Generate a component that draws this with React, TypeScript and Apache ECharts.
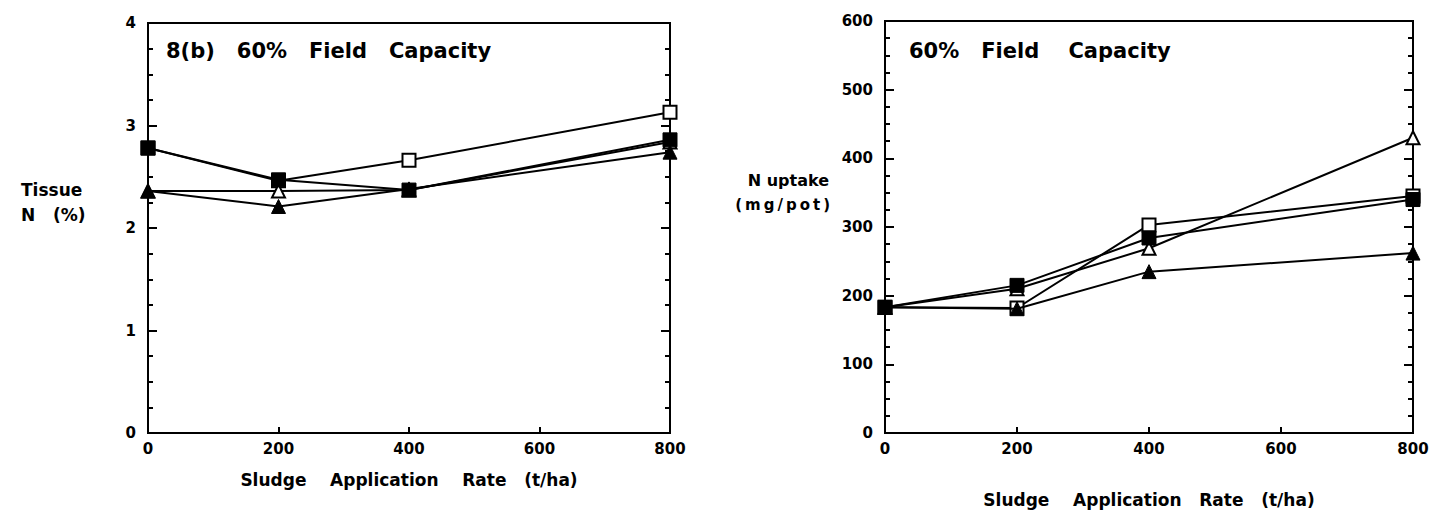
import React, { useEffect, useRef } from "react";
import * as echarts from "echarts";

const rates = [0, 200, 400, 800];

// Left panel: Tissue N (%)
const tissueOpenSquare = [2.78, 2.46, 2.66, 3.13];
const tissueFilledSquare = [2.78, 2.47, 2.37, 2.86];
const tissueOpenTriangle = [2.36, 2.36, 2.37, 2.84];
const tissueFilledTriangle = [2.36, 2.21, 2.38, 2.74];

// Right panel: N uptake (mg/pot)
const uptakeOpenSquare = [183, 182, 303, 345];
const uptakeFilledSquare = [183, 215, 284, 340];
const uptakeOpenTriangle = [183, 210, 269, 430];
const uptakeFilledTriangle = [183, 181, 235, 262];

const xTicks = [0, 200, 400, 600, 800];

const FONT = "'DejaVu Sans', 'Liberation Sans', Arial, sans-serif";

function pairs(vals: number[]) {
  return rates.map((r, i) => [r, vals[i]]);
}

export default function App() {
  const ref = useRef<HTMLDivElement>(null);
  useEffect(() => {
    document.body.style.margin = "0";
    const chart = echarts.init(ref.current!, undefined, { renderer: "svg" });

    const axisLine = { show: true, onZero: false, lineStyle: { color: "#000", width: 2 } };
    const labelStyle = { color: "#000", fontFamily: FONT, fontWeight: "bold" as const, fontSize: 15 };

    const mkX = (gi: number, name: string, nameGap: number) => ({
      type: "value" as const,
      gridIndex: gi,
      min: 0,
      max: 800,
      interval: 200,
      axisLine,
      axisTick: { show: true, inside: true, length: 6, lineStyle: { color: "#000", width: 2 } },
      axisLabel: { ...labelStyle, margin: 8, customValues: xTicks },
      splitLine: { show: false },
      name,
      nameLocation: "middle" as const,
      nameGap,
      nameTextStyle: { ...labelStyle, fontSize: 17 },
    });

    const mkY = (gi: number, max: number, interval: number, mirror: boolean) => ({
      type: "value" as const,
      gridIndex: gi,
      min: 0,
      max,
      interval,
      position: mirror ? ("right" as const) : ("left" as const),
      axisLine,
      axisTick: { show: true, inside: true, length: 9, lineStyle: { color: "#000", width: 2 } },
      minorTick: { show: true, splitNumber: 4, length: 5, lineStyle: { color: "#000", width: 2 } },
      axisLabel: { ...labelStyle, show: !mirror, margin: 12 },
      splitLine: { show: false },
      minorSplitLine: { show: false },
    });

    const mkSeries = (
      name: string,
      data: number[],
      gi: number,
      symbol: string,
      filled: boolean,
      size: number,
      z: number
    ) => ({
      name,
      type: "line" as const,
      xAxisIndex: gi,
      yAxisIndex: gi * 2,
      data: pairs(data),
      symbol,
      symbolSize: size,
      showSymbol: true,
      lineStyle: { color: "#000", width: 2 },
      itemStyle: filled
        ? { color: "#000", borderColor: "#000", borderWidth: 1 }
        : { color: "#fff", borderColor: "#000", borderWidth: 2 },
      z,
    });

    chart.setOption({
      animation: false,
      backgroundColor: "#fff",
      grid: [
        { left: 148, top: 23, width: 522, height: 410, show: true, borderColor: "#000", borderWidth: 2 },
        { left: 885, top: 21, width: 528, height: 412, show: true, borderColor: "#000", borderWidth: 2 },
      ],
      xAxis: [
        mkX(0, "Sludge    Application    Rate   (t/ha)", 38),
        mkX(1, "Sludge    Application   Rate   (t/ha)", 58),
      ],
      yAxis: [mkY(0, 4, 1, false), mkY(0, 4, 1, true), mkY(1, 600, 100, false), mkY(1, 600, 100, true)],
      series: [
        mkSeries("Tissue open square", tissueOpenSquare, 0, "rect", false, 13, 2),
        mkSeries("Tissue open triangle", tissueOpenTriangle, 0, "triangle", false, 13, 3),
        mkSeries("Tissue filled square", tissueFilledSquare, 0, "rect", true, 14, 4),
        mkSeries("Tissue filled triangle", tissueFilledTriangle, 0, "triangle", true, 14, 5),
        mkSeries("Uptake open square", uptakeOpenSquare, 1, "rect", false, 13, 2),
        mkSeries("Uptake open triangle", uptakeOpenTriangle, 1, "triangle", false, 13, 3),
        mkSeries("Uptake filled square", uptakeFilledSquare, 1, "rect", true, 14, 4),
        mkSeries("Uptake filled triangle", uptakeFilledTriangle, 1, "triangle", true, 14, 5),
      ],
      graphic: [
        {
          type: "text",
          x: 166,
          y: 51,
          style: {
            text: "8(b)   60%   Field   Capacity",
            font: `bold 21px ${FONT}`,
            fill: "#000",
            verticalAlign: "middle",
          },
        },
        {
          type: "text",
          x: 909,
          y: 51,
          style: {
            text: "60%   Field    Capacity",
            font: `bold 21px ${FONT}`,
            fill: "#000",
            verticalAlign: "middle",
          },
        },
        {
          type: "text",
          x: 21,
          y: 190,
          style: { text: "Tissue", font: `bold 17px ${FONT}`, fill: "#000", verticalAlign: "middle" },
        },
        {
          type: "text",
          x: 21,
          y: 215,
          style: { text: "N   (%)", font: `bold 17px ${FONT}`, fill: "#000", verticalAlign: "middle" },
        },
        {
          type: "text",
          x: 829,
          y: 180,
          style: {
            text: "N uptake",
            font: `bold 16px ${FONT}`,
            fill: "#000",
            align: "right",
            verticalAlign: "middle",
          },
        },
        {
          type: "text",
          x: 830,
          y: 205,
          style: {
            text: "(\u2009m\u2009g\u2009/\u2009p\u2009o\u2009t\u2009)",
            font: `bold 15px ${FONT}`,
            fill: "#000",
            align: "right",
            verticalAlign: "middle",
          },
        },
      ],
    });
    return () => chart.dispose();
  }, []);
  return <div ref={ref} style={{ width: 1433, height: 513 }} />;
}
